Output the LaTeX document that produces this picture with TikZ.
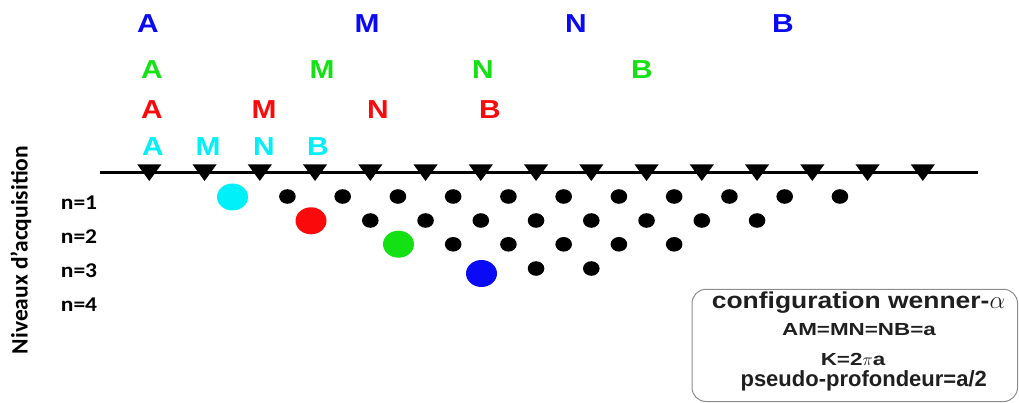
\documentclass[tikz,border=0pt]{standalone}
\usepackage{fontspec}
\setmainfont{Liberation Sans}
\newfontfamily\lettrefont[FakeStretch=1.15]{Liberation Sans}
\newfontfamily\titrefont[FakeStretch=1.15]{Liberation Sans}
\newfontfamily\largefont[FakeStretch=1.28]{Liberation Sans}
\newfontfamily\niveaufont[FakeStretch=1.12]{Carlito}
\newfontfamily\axefont{Carlito}

\tikzset{
  lettre/.style={anchor=base, inner sep=0pt, font=\lettrefont\bfseries\fontsize{26}{28}\selectfont},
  niveau/.style={anchor=base, inner sep=0pt, font=\niveaufont\bfseries\fontsize{21}{23}\selectfont},
  boxtext/.style={anchor=base, inner sep=0pt, text=black!88},
}

\begin{document}
\begin{tikzpicture}[x=1pt,y=-1pt]
  \useasboundingbox (0,0) rectangle (1019,403);

  \definecolor{wblue} {RGB}{10,10,245}
  \definecolor{wgreen}{RGB}{20,225,20}
  \definecolor{wred}  {RGB}{250,10,10}
  \definecolor{wcyan} {RGB}{0,240,250}

  % Electrode labels (a = 4, 3, 2, 1)
  \foreach \l/\x in {A/148,M/367,N/576,B/783}
    \node[lettre, text=wblue] (\l4) at (\x,33) {\l};
  \foreach \l/\x in {A/152,M/322,N/483,B/642}
    \node[lettre, text=wgreen] (\l3) at (\x,78.5) {\l};
  \foreach \l/\x in {A/152,M/264,N/378,B/490}
    \node[lettre, text=wred] (\l2) at (\x,118.5) {\l};
  \foreach \l/\x in {A/153,M/208,N/264,B/318}
    \node[lettre, text=wcyan] (\l1) at (\x,155.5) {\l};

  % Ground line and electrodes
  \draw[line width=3pt] (100,172.7) -- (978,172.7);
  \foreach \i in {0,...,14}
    \fill ({149.3+55.25*\i},164.5) -- ++(12,0) -- ++(-12,16.5) -- ++(-12,-16.5) -- cycle;

  % Measurement points
  \foreach \k in {2,...,12}
    \fill ({149.3+55.25*(\k+0.5)},196.5) ellipse (8.3 and 7.3);
  \foreach \k in {4,...,11}
    \fill ({149.3+55.25*\k},220.5) ellipse (8.3 and 7.3);
  \foreach \k in {5,...,9}
    \fill ({149.3+55.25*(\k+0.5)},244.3) ellipse (8.3 and 7.3);
  \foreach \k in {7,8}
    \fill ({149.3+55.25*\k},268.5) ellipse (8.3 and 7.3);
  \fill[wcyan]  (232.5,197)   ellipse (15.5 and 13.5);
  \fill[wred]   (311,220.8)   ellipse (15.5 and 13.5);
  \fill[wgreen] (398.5,244.2) ellipse (15.5 and 13.5);
  \fill[wblue]  (481.5,273.5) ellipse (15.5 and 13.5);

  % Levels
  \foreach \n/\y in {1/210,2/243.5,3/277.5,4/311.5}
    \node[niveau] (n\n) at (79,\y) {n=\n};
  \node[rotate=90, inner sep=0pt, font=\axefont\bfseries\fontsize{23.5}{25}\selectfont] (niveaux) at (21,250) {Niveaux d’acquisition};

  % Legend box
  \draw[black!45, line width=1pt, rounded corners=14pt] (692,289.3) rectangle (1017.5,401.5);
  \node[boxtext, font=\titrefont\bfseries\fontsize{23}{25}\selectfont] (titre) at (858.5,308.5) {configuration wenner-$\alpha$};
  \node[boxtext, font=\largefont\bfseries\fontsize{17.5}{19}\selectfont] (egal) at (859,335.5) {AM=MN=NB=a};
  \node[boxtext, font=\largefont\bfseries\fontsize{17.5}{19}\selectfont] (facteur) at (853,365.5) {K=2$\pi$a};
  \node[boxtext, font=\bfseries\fontsize{22}{24}\selectfont] (profondeur) at (863.7,386) {pseudo-profondeur=a/2};
\end{tikzpicture}
\end{document}
